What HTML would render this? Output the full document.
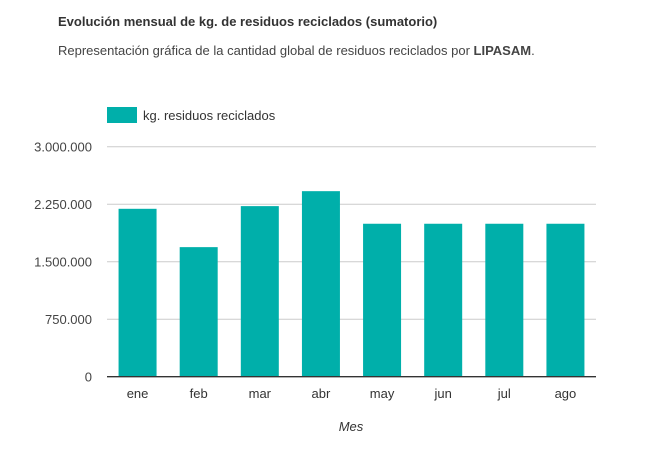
<!DOCTYPE html>
<html><head><meta charset="utf-8"><style>
body{margin:0;background:#fff;font-family:"Liberation Sans",Arial,sans-serif;}
#wrap{position:relative;width:669px;height:476px;overflow:hidden;}
.t{position:absolute;left:58px;top:14px;font-size:13px;font-weight:bold;color:#333;}
.s{position:absolute;left:58px;top:43px;font-size:13px;color:#444;}
</style></head><body>
<div id="wrap">
<div class="t">Evolución mensual de kg. de residuos reciclados (sumatorio)</div>
<div class="s">Representación gráfica de la cantidad global de residuos reciclados por <b>LIPASAM</b>.</div>
<svg id="svg" width="669" height="476" style="position:absolute;left:0;top:0"></svg>
</div>
<script>
const categories=["ene","feb","mar","abr","may","jun","jul","ago"];
const values=[2190000,1690000,2225000,2420000,1995000,1995000,1995000,1995000];
const ticks=[0,750000,1500000,2250000,3000000];
const tickLabels=["0","750.000","1.500.000","2.250.000","3.000.000"];
const svg=document.getElementById('svg');
const NS='http://www.w3.org/2000/svg';
const x0=107,x1=596,y0=376.7,yTop=146.7,maxV=3000000;
const y=v=>y0-(v/maxV)*(y0-yTop);
const band=(x1-x0)/categories.length;
const xc=i=>x0+band*(i+0.5);
function mk(tag,attrs,txt){const e=document.createElementNS(NS,tag);for(const k in attrs)e.setAttribute(k,attrs[k]);if(txt!==undefined)e.textContent=txt;svg.appendChild(e);return e;}
ticks.forEach((t,i)=>{
 if(i>0){const g=mk('line',{x1:x0,x2:x1,y1:y(t),y2:y(t),stroke:'#ccc','stroke-width':1});
 
 }
 const l=mk('text',{x:92,y:y(t)+5,'text-anchor':'end','font-size':13,fill:'#444','font-family':'Liberation Sans, sans-serif'},tickLabels[i]);
 
 
});
categories.forEach((c,i)=>{
 const w=38;
 const r=mk('rect',{x:xc(i)-w/2,y:y(values[i]),width:w,height:y0-y(values[i]),fill:'#00AFAA'});
 
 
 const l=mk('text',{x:xc(i),y:398,'text-anchor':'middle','font-size':13,fill:'#333','font-family':'Liberation Sans, sans-serif'},c);
 
 
});
const ax=mk('line',{x1:x0,x2:x1,y1:y0,y2:y0,stroke:'#333','stroke-width':1.3});


const xt=mk('text',{x:351,y:431,'text-anchor':'middle','font-size':13,'font-style':'italic',fill:'#333','font-family':'Liberation Sans, sans-serif'},'Mes');


const lg=mk('rect',{x:107,y:107,width:30,height:16,fill:'#00AFAA'});


const lt=mk('text',{x:143,y:120,'font-size':13,fill:'#333','font-family':'Liberation Sans, sans-serif'},'kg. residuos reciclados');


</script>
</body></html>
